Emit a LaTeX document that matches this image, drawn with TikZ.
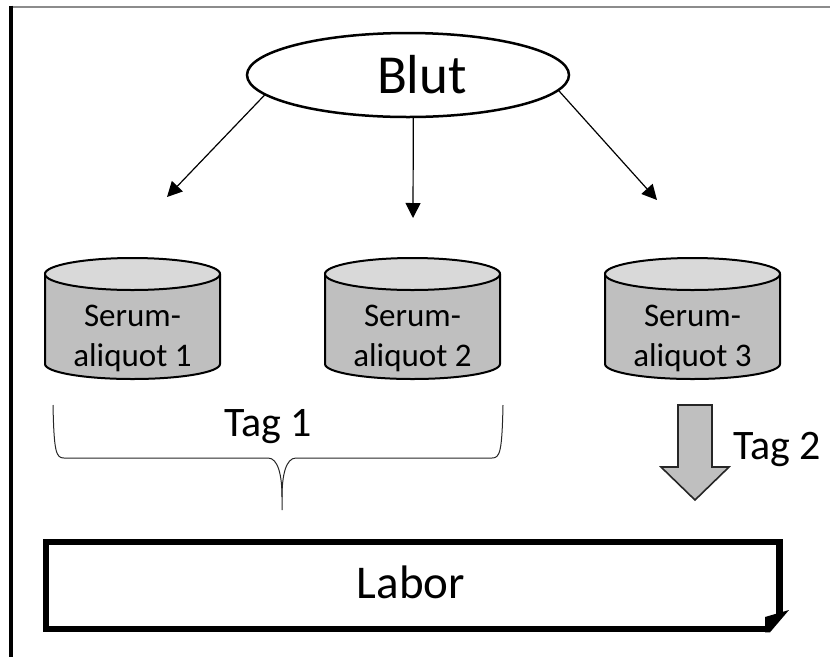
\documentclass[tikz,border=0pt]{standalone}
\usepackage{fontspec}
\setmainfont{Carlito}
\usetikzlibrary{arrows.meta,shapes.geometric}
\definecolor{bodygray}{HTML}{BFBFBF}
\definecolor{lidgray}{HTML}{D9D9D9}
\definecolor{rulegray}{HTML}{8C8C8C}

\tikzset{
  cylbody/.style={fill=bodygray, draw=black, line width=2pt},
  cyllid/.style={fill=lidgray, draw=black, line width=2pt},
  celltext/.style={align=center, inner sep=0pt, font=\fontsize{33}{40}\selectfont},
  tagtext/.style={anchor=base, inner sep=0pt, font=\fontsize{42}{50}\selectfont},
  thinarrow/.style={line width=1.2pt, -{Triangle[length=15pt,width=15pt]}},
  bracepath/.style={line width=1pt, draw=black!85},
  blockarrow/.style={fill=bodygray, draw=black!85, line width=1.6pt, line join=miter},
  labframe/.style={line width=6.5pt, line cap=butt, line join=miter}
}

% one serum tube: #1 node name, #2 centre x, #3 number
\newcommand\serumtube[3]{%
  \path[cylbody] ({#2-87.5},274) -- ({#2-87.5},364)
     arc[start angle=180, end angle=0, x radius=87.5pt, y radius=15pt]
     -- ({#2+87.5},274)
     arc[start angle=0, end angle=-180, x radius=87.5pt, y radius=15pt] -- cycle;
  \draw[cyllid] (#2,274) ellipse[x radius=87.5pt, y radius=16pt];
  \node[celltext] (#1) at (#2,338) {Serum-\\aliquot #3};
}

\begin{document}
\begin{tikzpicture}[x=1pt, y=1pt, yscale=-1]
  \useasboundingbox (0,0) rectangle (830,657);

  % outer rules
  \draw[rulegray, line width=2pt] (10,6.5) -- (830,6.5);
  \draw[black, line width=4pt] (11.3,5.5) -- (11.3,657);

  % blood sample
  \node[ellipse, draw, line width=2.5pt, minimum width=322pt, minimum height=84pt,
        inner sep=0pt, font=\fontsize{55}{64}\selectfont] (blut) at (408,75) {\hspace*{28pt}Blut};

  % three aliquots
  \serumtube{s1}{132.5}{1}
  \serumtube{s2}{412.5}{2}
  \serumtube{s3}{692.5}{3}

  % arrows from the blood sample
  \coordinate (t1) at (167,197);
  \coordinate (t2) at (413,218);
  \coordinate (t3) at (657,200);
  \draw[thinarrow] (blut.188.8) -- (t1);
  \draw[thinarrow] (blut.-83.2) -- (t2);
  \draw[thinarrow] (blut.-6) -- (t3);

  % brace for day one
  \draw[bracepath] (53,405) .. controls (54,452) and (56,458) .. (64,458) -- (268,458)
      .. controls (278,458) and (282,475) .. (282,497) -- (282,510);
  \draw[bracepath] (503,405) .. controls (502,452) and (500,458) .. (492,458) -- (296,458)
      .. controls (286,458) and (282,475) .. (282,497);
  \node[tagtext] (tag1) at (268,436) {Tag 1};

  % block arrow for day two
  \draw[blockarrow] (678,405) -- (712,405) -- (712,467) -- (729,467) -- (695,500)
      -- (661,467) -- (678,467) -- cycle;
  \node[tagtext] (tag2) at (777,459) {Tag 2};

  % laboratory box with folded corner
  \draw[labframe] (779.5,614) -- (779.5,542) -- (46,542) -- (46,629) -- (770,629);
  \fill (765,617) -- (789,610) -- (770,632.3) -- (765,632.3) -- cycle;
  \node[anchor=base, inner sep=0pt, font=\fontsize{47}{56}\selectfont] (labor) at (411,598) {Labor};
\end{tikzpicture}
\end{document}
